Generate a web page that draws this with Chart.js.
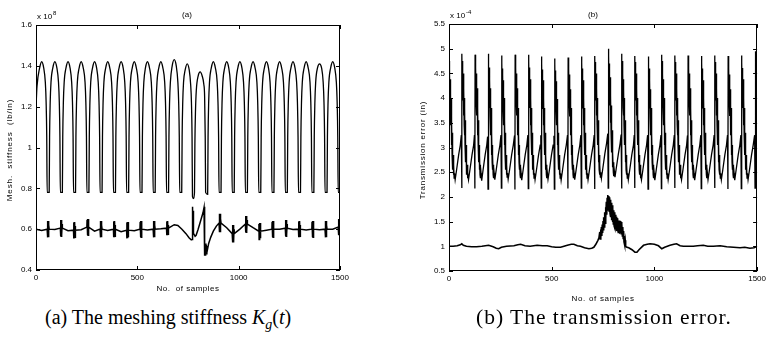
<!DOCTYPE html>
<html>
<head>
<meta charset="utf-8">
<script src="https://cdn.jsdelivr.net/npm/chart.js@4"></script>
<style>
html,body{margin:0;padding:0;background:#fff;}
body{width:769px;height:341px;position:relative;overflow:hidden;}
canvas{position:absolute;top:0;}
.cap{position:absolute;top:305px;font-family:"Liberation Serif","Times New Roman",serif;font-size:20px;line-height:24px;color:#000;white-space:nowrap;}
.cap i{font-style:italic;}
.cap sub{font-size:14px;vertical-align:-5px;line-height:0;}
</style>
</head>
<body>
<canvas id="ca" width="380" height="300" style="left:0px"></canvas>
<canvas id="cb" width="389" height="310" style="left:380px"></canvas>
<div class="cap" style="left:45px">(a) The meshing stiffness <i>K</i><sub><i>g</i></sub>(<i>t</i>)</div>
<div class="cap" style="left:476px;font-size:21.5px;letter-spacing:1px">(b) The transmission error.</div>
<script>
// ---------- tick values / labels ----------
const xTicks = [0, 500, 1000, 1500];
const xTickLabels = ['0', '500', '1000', '1500'];
const yTicksA = [0.4, 0.6, 0.8, 1, 1.2, 1.4, 1.6];
const yTickLabelsA = ['0.4', '0.6', '0.8', '1', '1.2', '1.4', '1.6'];
const yTicksB = [0.5, 1, 1.5, 2, 2.5, 3, 3.5, 4, 4.5, 5, 5.5];
const yTickLabelsB = ['0.5', '1', '1.5', '2', '2.5', '3', '3.5', '4', '4.5', '5', '5.5'];

// ---------- (a) meshing stiffness, upper trace [sample, x1e8 lb/in] ----------
const stiffHigh = [
[0,1.20],[5,1.30],[18,1.39],[28,1.42],[38,1.39],[46,1.32],[50,1.22],[53,1.05],[55,0.78],
[65,0.78],[67,1.05],[70,1.22],[74,1.32],[83,1.39],[93,1.42],[103,1.39],[111,1.32],[115,1.22],[118,1.05],[120,0.78],
[130,0.78],[132,1.05],[135,1.22],[139,1.32],[148,1.39],[158,1.42],[168,1.39],[176,1.32],[180,1.22],[183,1.05],[185,0.78],
[195,0.78],[197,1.05],[200,1.22],[204,1.32],[213,1.39],[223,1.42],[233,1.39],[242,1.32],[246,1.22],[249,1.05],[251,0.78],
[261,0.78],[263,1.05],[266,1.22],[270,1.32],[279,1.39],[289,1.42],[299,1.39],[307,1.32],[311,1.22],[314,1.05],[316,0.78],
[326,0.78],[328,1.05],[331,1.22],[335,1.32],[344,1.39],[354,1.42],[364,1.39],[373,1.32],[377,1.22],[380,1.05],[382,0.78],
[392,0.78],[394,1.05],[397,1.22],[401,1.32],[410,1.39],[420,1.42],[430,1.39],[438,1.32],[442,1.22],[445,1.05],[447,0.78],
[457,0.78],[459,1.05],[462,1.22],[466,1.32],[475,1.39],[485,1.42],[495,1.39],[504,1.32],[508,1.22],[511,1.05],[513,0.78],
[523,0.78],[525,1.05],[528,1.22],[532,1.32],[540,1.39],[550,1.42],[560,1.39],[569,1.32],[573,1.22],[576,1.05],[578,0.78],
[588,0.78],[590,1.05],[593,1.22],[597,1.32],[606,1.39],[616,1.42],[626,1.39],[635,1.32],[639,1.22],[642,1.05],[644,0.78],
[654,0.78],[656,1.05],[659,1.22],[663,1.32],[672,1.40],[682,1.43],[692,1.40],[700,1.32],[704,1.22],[707,1.05],[709,0.78],
[719,0.78],[721,1.05],[724,1.22],[728,1.32],[736,1.38],[746,1.41],[756,1.38],[763,1.31],[767,1.22],[770,1.05],[772,0.76],[777,0.75],
[782,0.78],[784,1.02],[787,1.18],[791,1.28],[800,1.35],[810,1.37],[820,1.35],[828,1.31],[832,1.25],[835,1.05],[837,0.78],
[847,0.77],[849,1.05],[852,1.22],[856,1.32],[865,1.39],[875,1.42],[885,1.39],[894,1.32],[898,1.22],[901,1.05],[903,0.78],
[913,0.78],[915,1.05],[918,1.22],[922,1.32],[931,1.39],[941,1.42],[951,1.39],[959,1.32],[963,1.22],[966,1.05],[968,0.78],
[978,0.78],[980,1.05],[983,1.22],[987,1.32],[996,1.39],[1006,1.42],[1016,1.39],[1024,1.32],[1028,1.22],[1031,1.05],[1033,0.78],
[1043,0.78],[1045,1.05],[1048,1.22],[1052,1.32],[1061,1.39],[1071,1.42],[1081,1.39],[1090,1.32],[1094,1.22],[1097,1.05],[1099,0.78],
[1109,0.78],[1111,1.05],[1114,1.22],[1118,1.32],[1127,1.39],[1137,1.42],[1147,1.39],[1155,1.32],[1159,1.22],[1162,1.05],[1164,0.78],
[1174,0.78],[1176,1.05],[1179,1.22],[1183,1.32],[1192,1.39],[1202,1.42],[1212,1.39],[1221,1.32],[1225,1.22],[1228,1.05],[1230,0.78],
[1240,0.78],[1242,1.05],[1245,1.22],[1249,1.32],[1258,1.39],[1268,1.42],[1278,1.39],[1286,1.32],[1290,1.22],[1293,1.05],[1295,0.78],
[1305,0.78],[1307,1.05],[1310,1.22],[1314,1.32],[1323,1.39],[1333,1.42],[1343,1.39],[1352,1.32],[1356,1.22],[1359,1.05],[1361,0.78],
[1371,0.78],[1373,1.05],[1376,1.22],[1380,1.32],[1389,1.39],[1399,1.41],[1409,1.39],[1417,1.32],[1421,1.22],[1424,1.05],[1426,0.78],
[1436,0.78],[1438,1.05],[1441,1.22],[1445,1.32],[1454,1.39],[1464,1.42],[1474,1.39],[1482,1.32],[1486,1.22],[1489,1.05],[1491,0.78],
[1500,0.78]
];

// ---------- (a) meshing stiffness, lower trace ----------
const stiffLow = [
[0,0.600],[28,0.593],
[55,0.600],[56,0.635],[57,0.560],[58,0.640],[59,0.560],[60,0.640],[61,0.560],[62,0.640],[63,0.565],[64,0.620],[65,0.600],
[93,0.598],
[120,0.605],[121,0.640],[122,0.565],[123,0.645],[124,0.565],[125,0.645],[126,0.565],[127,0.645],[128,0.570],[129,0.625],[130,0.605],
[158,0.592],
[185,0.595],[186,0.630],[187,0.555],[188,0.635],[189,0.555],[190,0.635],[191,0.555],[192,0.635],[193,0.560],[194,0.615],[195,0.595],
[223,0.597],
[251,0.610],[252,0.645],[253,0.570],[254,0.650],[255,0.570],[256,0.650],[257,0.570],[258,0.650],[259,0.575],[260,0.630],[261,0.610],
[289,0.590],
[316,0.600],[317,0.635],[318,0.560],[319,0.640],[320,0.560],[321,0.640],[322,0.560],[323,0.640],[324,0.565],[325,0.620],[326,0.600],
[354,0.593],
[382,0.600],[383,0.635],[384,0.560],[385,0.640],[386,0.560],[387,0.640],[388,0.560],[389,0.640],[390,0.565],[391,0.620],[392,0.600],
[420,0.588],
[447,0.595],[448,0.630],[449,0.555],[450,0.635],[451,0.555],[452,0.635],[453,0.555],[454,0.635],[455,0.560],[456,0.615],[457,0.595],
[485,0.592],
[513,0.600],[514,0.635],[515,0.560],[516,0.640],[517,0.560],[518,0.640],[519,0.560],[520,0.640],[521,0.565],[522,0.620],[523,0.600],
[550,0.596],
[578,0.600],[579,0.635],[580,0.560],[581,0.640],[582,0.560],[583,0.640],[584,0.560],[585,0.640],[586,0.565],[587,0.620],[588,0.600],
[616,0.602],
[644,0.605],[645,0.635],[646,0.570],[647,0.640],[648,0.570],[649,0.640],[650,0.570],[651,0.638],[652,0.575],[653,0.620],[654,0.605],
[682,0.622],[700,0.618],[720,0.600],[740,0.578],[755,0.558],[766,0.548],[770,0.550],[771,0.600],[772,0.700],[773,0.710],[774,0.620],[775,0.690],[776,0.600],[778,0.580],[785,0.565],[790,0.570],[800,0.600],[812,0.640],[824,0.680],[829,0.705],[831,0.710],[832,0.600],[833,0.470],[835,0.530],[836,0.470],[838,0.520],[840,0.480],[843,0.510],[846,0.500],[852,0.530],[862,0.560],[875,0.590],[890,0.615],
[903,0.630],[904,0.670],[905,0.585],[906,0.675],[907,0.585],[908,0.675],[909,0.585],[910,0.672],[911,0.590],[912,0.650],[913,0.630],
[941,0.607],
[968,0.578],[969,0.615],[970,0.535],[971,0.620],[972,0.535],[973,0.620],[974,0.535],[975,0.618],[976,0.540],[977,0.600],[978,0.578],
[1006,0.600],
[1033,0.625],[1034,0.660],[1035,0.585],[1036,0.665],[1037,0.585],[1038,0.665],[1039,0.585],[1040,0.662],[1041,0.590],[1042,0.645],[1043,0.625],
[1071,0.607],
[1099,0.590],[1100,0.625],[1101,0.550],[1102,0.630],[1103,0.550],[1104,0.630],[1105,0.550],[1106,0.630],[1107,0.555],[1108,0.610],[1109,0.590],
[1137,0.595],
[1164,0.600],[1165,0.635],[1166,0.560],[1167,0.640],[1168,0.560],[1169,0.640],[1170,0.560],[1171,0.640],[1172,0.565],[1173,0.620],[1174,0.600],
[1202,0.600],
[1230,0.605],[1231,0.640],[1232,0.565],[1233,0.645],[1234,0.565],[1235,0.645],[1236,0.565],[1237,0.645],[1238,0.570],[1239,0.625],[1240,0.605],
[1268,0.598],
[1295,0.600],[1296,0.635],[1297,0.560],[1298,0.640],[1299,0.560],[1300,0.640],[1301,0.560],[1302,0.640],[1303,0.565],[1304,0.620],[1305,0.600],
[1333,0.596],
[1361,0.600],[1362,0.635],[1363,0.560],[1364,0.640],[1365,0.560],[1366,0.640],[1367,0.560],[1368,0.640],[1369,0.565],[1370,0.620],[1371,0.600],
[1399,0.597],
[1426,0.600],[1427,0.635],[1428,0.560],[1429,0.640],[1430,0.560],[1431,0.640],[1432,0.560],[1433,0.640],[1434,0.565],[1435,0.620],[1436,0.600],
[1464,0.600],
[1491,0.610],[1492,0.645],[1493,0.570],[1494,0.650],[1495,0.570],[1496,0.650],[1497,0.570],[1498,0.650],[1499,0.575],[1500,0.610]
];

// ---------- (b) transmission error, upper trace [sample, x1e-4 in] ----------
const teHigh = [
[0,4.75],[1,4.15],[2,4.62],[3,3.95],[4,4.50],[5,3.80],[6,4.38],[7,3.65],[8,4.20],[9,3.45],[10,4.00],[11,3.25],[12,3.80],[13,3.05],[14,3.55],[15,2.85],[16,3.30],[17,2.70],[18,3.05],[19,2.55],[20,2.85],[22,2.45],[23,2.65],[25,2.38],[27,2.48],[30,2.35],[37,2.55],[47,2.85],[55,3.05],
[60,3.25],[62,2.18],[63,4.90],[64,4.35],[65,4.75],[66,4.15],[67,4.62],[68,3.95],[69,4.50],[70,3.80],[71,4.38],[72,3.65],[73,4.20],[74,3.45],[75,4.00],[76,3.25],[77,3.80],[78,3.05],[79,3.55],[80,2.85],[81,3.30],[82,2.70],[83,3.05],[84,2.55],[85,2.85],[87,2.45],[88,2.65],[90,2.38],[92,2.48],[95,2.35],[102,2.55],[112,2.85],[120,3.05],
[124,3.25],[126,2.17],[127,4.88],[128,4.35],[129,4.75],[130,4.15],[131,4.62],[132,3.95],[133,4.50],[134,3.80],[135,4.38],[136,3.65],[137,4.20],[138,3.45],[139,4.00],[140,3.25],[141,3.80],[142,3.05],[143,3.55],[144,2.85],[145,3.30],[146,2.70],[147,3.05],[148,2.55],[149,2.85],[151,2.45],[152,2.65],[154,2.38],[156,2.48],[159,2.33],[166,2.55],[176,2.85],[184,3.05],
[188,3.22],[190,2.16],[191,4.90],[192,4.35],[193,4.75],[194,4.15],[195,4.62],[196,3.95],[197,4.50],[198,3.80],[199,4.38],[200,3.65],[201,4.20],[202,3.45],[203,4.00],[204,3.25],[205,3.80],[206,3.05],[207,3.55],[208,2.85],[209,3.30],[210,2.70],[211,3.05],[212,2.55],[213,2.85],[215,2.45],[216,2.65],[218,2.38],[220,2.48],[223,2.35],[230,2.55],[240,2.85],[248,3.05],
[253,3.25],[255,2.18],[256,4.86],[257,4.33],[258,4.72],[259,4.13],[260,4.60],[261,3.93],[262,4.48],[263,3.78],[264,4.36],[265,3.63],[266,4.18],[267,3.45],[268,4.00],[269,3.25],[270,3.80],[271,3.05],[272,3.55],[273,2.85],[274,3.30],[275,2.70],[276,3.05],[277,2.55],[278,2.85],[280,2.45],[281,2.65],[283,2.40],[285,2.48],[288,2.36],[295,2.55],[305,2.85],[313,3.05],
[319,3.24],[321,2.15],[322,4.88],[323,4.35],[324,4.75],[325,4.15],[326,4.62],[327,3.95],[328,4.50],[329,3.80],[330,4.38],[331,3.65],[332,4.20],[333,3.45],[334,4.00],[335,3.25],[336,3.80],[337,3.05],[338,3.55],[339,2.85],[340,3.30],[341,2.70],[342,3.05],[343,2.55],[344,2.85],[346,2.45],[347,2.65],[349,2.38],[351,2.48],[354,2.34],[361,2.55],[371,2.85],[379,3.05],
[384,3.25],[386,2.17],[387,4.88],[388,4.35],[389,4.75],[390,4.15],[391,4.62],[392,3.95],[393,4.50],[394,3.80],[395,4.38],[396,3.65],[397,4.20],[398,3.45],[399,4.00],[400,3.25],[401,3.80],[402,3.05],[403,3.55],[404,2.85],[405,3.30],[406,2.70],[407,3.05],[408,2.55],[409,2.85],[411,2.45],[412,2.65],[414,2.38],[416,2.48],[419,2.35],[426,2.55],[436,2.85],[444,3.05],
[447,3.25],[449,2.18],[450,4.84],[451,4.32],[452,4.70],[453,4.12],[454,4.58],[455,3.93],[456,4.48],[457,3.78],[458,4.36],[459,3.63],[460,4.18],[461,3.45],[462,4.00],[463,3.25],[464,3.80],[465,3.05],[466,3.55],[467,2.85],[468,3.30],[469,2.70],[470,3.05],[471,2.55],[472,2.85],[474,2.45],[475,2.65],[477,2.38],[479,2.48],[482,2.36],[489,2.55],[499,2.85],[507,3.05],
[511,3.24],[513,2.16],[514,4.80],[515,4.30],[516,4.68],[517,4.10],[518,4.56],[519,3.92],[520,4.45],[521,3.78],[522,4.34],[523,3.63],[524,4.16],[525,3.45],[526,3.98],[527,3.25],[528,3.80],[529,3.05],[530,3.55],[531,2.85],[532,3.30],[533,2.70],[534,3.05],[535,2.55],[536,2.85],[538,2.45],[539,2.65],[541,2.38],[543,2.48],[546,2.34],[553,2.55],[563,2.85],[571,3.05],
[577,3.25],[579,2.17],[580,4.82],[581,4.32],[582,4.70],[583,4.12],[584,4.58],[585,3.93],[586,4.48],[587,3.78],[588,4.36],[589,3.63],[590,4.18],[591,3.45],[592,4.00],[593,3.25],[594,3.80],[595,3.05],[596,3.55],[597,2.85],[598,3.30],[599,2.70],[600,3.05],[601,2.55],[602,2.85],[604,2.45],[605,2.65],[607,2.38],[609,2.48],[612,2.35],[619,2.55],[629,2.85],[637,3.05],
[642,3.25],[644,2.18],[645,4.84],[646,4.33],[647,4.72],[648,4.13],[649,4.60],[650,3.94],[651,4.48],[652,3.79],[653,4.36],[654,3.64],[655,4.18],[656,3.45],[657,4.00],[658,3.25],[659,3.80],[660,3.05],[661,3.55],[662,2.85],[663,3.30],[664,2.70],[665,3.05],[666,2.55],[667,2.85],[669,2.45],[670,2.65],[672,2.38],[674,2.48],[677,2.35],[684,2.55],[694,2.85],[702,3.05],
[707,3.25],[709,2.16],[710,4.85],[711,4.34],[712,4.73],[713,4.14],[714,4.61],[715,3.95],[716,4.50],[717,3.80],[718,4.38],[719,3.65],[720,4.20],[721,3.45],[722,4.00],[723,3.25],[724,3.80],[725,3.05],[726,3.55],[727,2.85],[728,3.30],[729,2.70],[730,3.05],[731,2.55],[732,2.85],[734,2.45],[735,2.65],[737,2.40],[739,2.50],[742,2.38],[749,2.58],[759,2.88],[767,3.08],
[773,3.28],[775,2.18],[776,5.00],[777,4.42],[778,4.85],[779,4.22],[780,4.70],[781,4.00],[782,4.55],[783,3.85],[784,4.42],[785,3.70],[786,4.25],[787,3.50],[788,4.05],[789,3.30],[790,3.85],[791,3.10],[792,3.60],[793,2.90],[794,3.35],[795,2.75],[796,3.10],[797,2.60],[798,2.90],[800,2.50],[801,2.70],[803,2.42],[805,2.52],[808,2.40],[815,2.60],[825,2.88],[833,3.08],
[838,3.26],[840,2.17],[841,4.90],[842,4.35],[843,4.75],[844,4.15],[845,4.62],[846,3.95],[847,4.50],[848,3.80],[849,4.38],[850,3.65],[851,4.20],[852,3.45],[853,4.00],[854,3.25],[855,3.80],[856,3.05],[857,3.55],[858,2.85],[859,3.30],[860,2.70],[861,3.05],[862,2.55],[863,2.85],[865,2.45],[866,2.65],[868,2.38],[870,2.48],[873,2.35],[880,2.55],[890,2.85],[898,3.05],
[902,3.25],[904,2.18],[905,4.85],[906,4.34],[907,4.73],[908,4.14],[909,4.61],[910,3.95],[911,4.50],[912,3.80],[913,4.38],[914,3.65],[915,4.20],[916,3.45],[917,4.00],[918,3.25],[919,3.80],[920,3.05],[921,3.55],[922,2.85],[923,3.30],[924,2.70],[925,3.05],[926,2.55],[927,2.85],[929,2.45],[930,2.65],[932,2.38],[934,2.48],[937,2.35],[944,2.55],[954,2.85],[962,3.05],
[967,3.25],[969,2.16],[970,4.84],[971,4.33],[972,4.72],[973,4.13],[974,4.60],[975,3.94],[976,4.48],[977,3.79],[978,4.36],[979,3.64],[980,4.18],[981,3.45],[982,4.00],[983,3.25],[984,3.80],[985,3.05],[986,3.55],[987,2.85],[988,3.30],[989,2.70],[990,3.05],[991,2.55],[992,2.85],[994,2.45],[995,2.65],[997,2.38],[999,2.48],[1002,2.34],[1009,2.55],[1019,2.85],[1027,3.05],
[1032,3.25],[1034,2.17],[1035,4.88],[1036,4.35],[1037,4.75],[1038,4.15],[1039,4.62],[1040,3.95],[1041,4.50],[1042,3.80],[1043,4.38],[1044,3.65],[1045,4.20],[1046,3.45],[1047,4.00],[1048,3.25],[1049,3.80],[1050,3.05],[1051,3.55],[1052,2.85],[1053,3.30],[1054,2.70],[1055,3.05],[1056,2.55],[1057,2.85],[1059,2.45],[1060,2.65],[1062,2.38],[1064,2.48],[1067,2.35],[1074,2.55],[1084,2.85],[1092,3.05],
[1097,3.25],[1099,2.18],[1100,4.86],[1101,4.34],[1102,4.73],[1103,4.14],[1104,4.61],[1105,3.95],[1106,4.50],[1107,3.80],[1108,4.38],[1109,3.65],[1110,4.20],[1111,3.45],[1112,4.00],[1113,3.25],[1114,3.80],[1115,3.05],[1116,3.55],[1117,2.85],[1118,3.30],[1119,2.70],[1120,3.05],[1121,2.55],[1122,2.85],[1124,2.45],[1125,2.65],[1127,2.38],[1129,2.48],[1132,2.35],[1139,2.55],[1149,2.85],[1157,3.05],
[1161,3.24],[1163,2.16],[1164,4.86],[1165,4.34],[1166,4.73],[1167,4.14],[1168,4.61],[1169,3.95],[1170,4.50],[1171,3.80],[1172,4.38],[1173,3.65],[1174,4.20],[1175,3.45],[1176,4.00],[1177,3.25],[1178,3.80],[1179,3.05],[1180,3.55],[1181,2.85],[1182,3.30],[1183,2.70],[1184,3.05],[1185,2.55],[1186,2.85],[1188,2.45],[1189,2.65],[1191,2.38],[1193,2.48],[1196,2.34],[1203,2.55],[1213,2.85],[1221,3.05],
[1226,3.25],[1228,2.17],[1229,4.85],[1230,4.33],[1231,4.72],[1232,4.13],[1233,4.60],[1234,3.94],[1235,4.48],[1236,3.79],[1237,4.36],[1238,3.64],[1239,4.18],[1240,3.45],[1241,4.00],[1242,3.25],[1243,3.80],[1244,3.05],[1245,3.55],[1246,2.85],[1247,3.30],[1248,2.70],[1249,3.05],[1250,2.55],[1251,2.85],[1253,2.45],[1254,2.65],[1256,2.38],[1258,2.48],[1261,2.35],[1268,2.55],[1278,2.85],[1286,3.05],
[1291,3.25],[1293,2.18],[1294,4.86],[1295,4.34],[1296,4.73],[1297,4.14],[1298,4.61],[1299,3.95],[1300,4.50],[1301,3.80],[1302,4.38],[1303,3.65],[1304,4.20],[1305,3.45],[1306,4.00],[1307,3.25],[1308,3.80],[1309,3.05],[1310,3.55],[1311,2.85],[1312,3.30],[1313,2.70],[1314,3.05],[1315,2.55],[1316,2.85],[1318,2.45],[1319,2.65],[1321,2.38],[1323,2.48],[1326,2.35],[1333,2.55],[1343,2.85],[1351,3.05],
[1356,3.25],[1358,2.16],[1359,4.85],[1360,4.33],[1361,4.72],[1362,4.13],[1363,4.60],[1364,3.94],[1365,4.48],[1366,3.79],[1367,4.36],[1368,3.64],[1369,4.18],[1370,3.45],[1371,4.00],[1372,3.25],[1373,3.80],[1374,3.05],[1375,3.55],[1376,2.85],[1377,3.30],[1378,2.70],[1379,3.05],[1380,2.55],[1381,2.85],[1383,2.45],[1384,2.65],[1386,2.38],[1388,2.48],[1391,2.34],[1398,2.55],[1408,2.85],[1416,3.05],
[1421,3.25],[1423,2.17],[1424,4.86],[1425,4.34],[1426,4.73],[1427,4.14],[1428,4.61],[1429,3.95],[1430,4.50],[1431,3.80],[1432,4.38],[1433,3.65],[1434,4.20],[1435,3.45],[1436,4.00],[1437,3.25],[1438,3.80],[1439,3.05],[1440,3.55],[1441,2.85],[1442,3.30],[1443,2.70],[1444,3.05],[1445,2.55],[1446,2.85],[1448,2.45],[1449,2.65],[1451,2.38],[1453,2.48],[1456,2.35],[1463,2.55],[1473,2.85],[1481,3.05],
[1488,3.25],[1490,2.18],[1491,4.95],[1492,4.38],[1493,4.78],[1494,4.17],[1495,4.64],[1496,3.96],[1497,4.52],[1498,3.82],[1499,4.40],[1500,3.70]
];

// ---------- (b) transmission error, lower trace ----------
const teLow = [
[0,1.00],[20,1.00],[40,1.01],[55,1.03],[62,1.05],[70,1.02],[85,1.00],[110,0.99],[134,0.99],[160,1.00],[193,1.02],[215,0.99],[230,0.96],[242,0.95],[255,0.98],[280,1.00],[316,1.01],[335,1.03],[349,1.04],[370,1.01],[395,1.00],[429,1.02],[455,1.01],[478,1.01],[500,0.99],[520,0.98],[543,0.98],[560,1.00],[576,1.02],[595,1.04],[608,1.04],[625,1.01],[640,1.00],[660,0.97],[681,0.95],[695,0.96],[705,0.98],[715,1.04],[725,1.12],[730,1.17],
[734,1.29],[736,1.15],[738,1.34],[740,1.18],[742,1.39],[744,1.21],[746,1.44],[748,1.27],[750,1.51],[752,1.32],[754,1.59],[756,1.39],[758,1.69],[760,1.47],[762,1.79],[764,1.56],[766,1.90],[768,1.64],[770,1.98],[772,1.72],[774,2.04],[776,1.76],[778,2.02],[780,1.71],[782,1.99],[784,1.66],[786,1.94],[788,1.59],[790,1.88],[792,1.53],[794,1.83],[796,1.49],[798,1.77],[800,1.45],[802,1.73],[804,1.41],[806,1.69],[808,1.37],[810,1.64],[812,1.34],[814,1.60],[816,1.31],[818,1.57],[820,1.30],[822,1.55],[824,1.28],[826,1.52],[828,1.28],[830,1.52],[832,1.27],[834,1.51],[836,1.26],[838,1.49],[840,1.24],[842,1.45],[844,1.21],[846,1.39],[848,1.16],[850,1.31],[852,1.09],[854,1.21],[856,1.03],[858,1.12],[860,1.00],
[866,0.98],[875,0.97],[891,0.93],[905,0.88],[915,0.88],[925,0.93],[947,1.02],[965,1.04],[979,1.05],[1000,1.04],[1020,1.01],[1036,0.95],[1050,0.98],[1076,1.02],[1095,1.04],[1108,1.05],[1125,1.01],[1141,1.00],[1165,1.00],[1189,1.00],[1210,1.01],[1238,1.02],[1260,1.00],[1287,1.00],[1320,1.01],[1352,0.99],[1385,0.98],[1417,0.97],[1440,0.98],[1465,0.96],[1485,0.97],[1500,1.00]
];

// ---------- helpers ----------
const toXY = arr => arr.map(p => ({x: p[0], y: p[1]}));
const FONT = '"Liberation Sans", Arial, sans-serif';

const decoPlugin = {
  id: 'deco',
  afterDraw(chart, args, o) {
    const {ctx, chartArea: a, scales} = chart;
    ctx.save();
    ctx.strokeStyle = '#000';
    ctx.lineWidth = 1;
    ctx.strokeRect(Math.round(a.left) + 0.5, Math.round(a.top) + 0.5, Math.round(a.right - a.left) - 1, Math.round(a.bottom - a.top) - 1);
    const tl = 4;
    ctx.beginPath();
    xTicks.forEach(v => {
      const px = Math.round(scales.x.getPixelForValue(v)) + 0.5;
      ctx.moveTo(px, a.bottom); ctx.lineTo(px, a.bottom - tl);
      ctx.moveTo(px, a.top); ctx.lineTo(px, a.top + tl);
    });
    o.yTicks.forEach(v => {
      const py = Math.round(scales.y.getPixelForValue(v)) + 0.5;
      ctx.moveTo(a.left, py); ctx.lineTo(a.left + tl, py);
      ctx.moveTo(a.right, py); ctx.lineTo(a.right - tl, py);
    });
    ctx.stroke();
    ctx.fillStyle = '#000';
    ctx.textBaseline = 'middle';
    ctx.font = '8px ' + FONT;
    ctx.textAlign = 'center';
    ctx.fillText(o.title, o.titleX, o.titleY);
    ctx.letterSpacing = o.xlabelSpacing;
    ctx.fillText(o.xlabel, o.xlabelX, o.xlabelY);
    ctx.letterSpacing = '0px';
    ctx.textAlign = 'left';
    ctx.fillText('x 10', o.expX, o.expY);
    const w = ctx.measureText('x 10').width;
    ctx.font = '6px ' + FONT;
    ctx.fillText(o.expSup, o.expX + w + 1, o.expY - 4);
    ctx.font = '8px ' + FONT;
    ctx.letterSpacing = o.ylabelSpacing;
    ctx.translate(o.ylabelX, o.ylabelY);
    ctx.rotate(-Math.PI / 2);
    ctx.textAlign = 'center';
    ctx.fillText(o.ylabel, 0, 0);
    ctx.restore();
  }
};

function makeChart(id, datasets, yMin, yMax, yTicks, yLabels, yWidth, xHeight, padRight, padTop, deco) {
  return new Chart(document.getElementById(id), {
    type: 'line',
    data: {datasets},
    options: {
      responsive: false,
      devicePixelRatio: 1,
      animation: false,
      events: [],
      layout: {padding: {top: padTop, right: padRight, left: 0, bottom: 0}},
      plugins: {legend: {display: false}, tooltip: {enabled: false}, title: {display: false}, deco},
      elements: {point: {radius: 0}, line: {borderColor: '#000', borderWidth: 1.3}},
      scales: {
        x: {
          type: 'linear', min: 0, max: 1500,
          afterBuildTicks: s => { s.ticks = xTicks.map(v => ({value: v})); },
          afterFit: s => { s.height = xHeight; },
          grid: {display: false, drawTicks: false},
          border: {display: false},
          ticks: {color: '#000', font: {size: 8, family: FONT}, padding: 3, maxRotation: 0, autoSkip: false,
                  callback: (v, i) => xTickLabels[i]}
        },
        y: {
          type: 'linear', min: yMin, max: yMax,
          afterBuildTicks: s => { s.ticks = yTicks.map(v => ({value: v})); },
          afterFit: s => { s.width = yWidth; },
          grid: {display: false, drawTicks: false},
          border: {display: false},
          ticks: {color: '#000', font: {size: 8, family: FONT}, padding: 4, autoSkip: false,
                  callback: (v, i) => yLabels[i]}
        }
      }
    },
    plugins: [decoPlugin]
  });
}

makeChart('ca', [
  {data: toXY(stiffHigh), cubicInterpolationMode: 'monotone', borderWidth: 1.3},
  {data: toXY(stiffLow), tension: 0, borderWidth: 1.5}
], 0.4, 1.6, yTicksA, yTickLabelsA, 36, 30, 40, 25, {
  yTicks: yTicksA, title: '(a)', titleX: 187, titleY: 15,
  xlabel: 'No.  of samples', xlabelX: 188, xlabelY: 289, xlabelSpacing: '0.5px',
  expX: 37, expY: 17, expSup: '8',
  ylabel: 'Mesh.  stiffness  (lb/in)', ylabelX: 10, ylabelY: 150, ylabelSpacing: '0.9px'
});

makeChart('cb', [
  {data: toXY(teHigh), tension: 0, borderWidth: 1.3},
  {data: toXY(teLow), tension: 0, borderWidth: 1.6}
], 0.5, 5.5, yTicksB, yTickLabelsB, 69, 39, 11.3, 24, {
  yTicks: yTicksB, title: '(b)', titleX: 213, titleY: 15,
  xlabel: 'No. of samples', xlabelX: 223, xlabelY: 299, xlabelSpacing: '0.7px',
  expX: 70, expY: 16, expSup: '-4',
  ylabel: 'Transmission error (in)', ylabelX: 43, ylabelY: 150, ylabelSpacing: '0.8px'
});
</script>
</body>
</html>
